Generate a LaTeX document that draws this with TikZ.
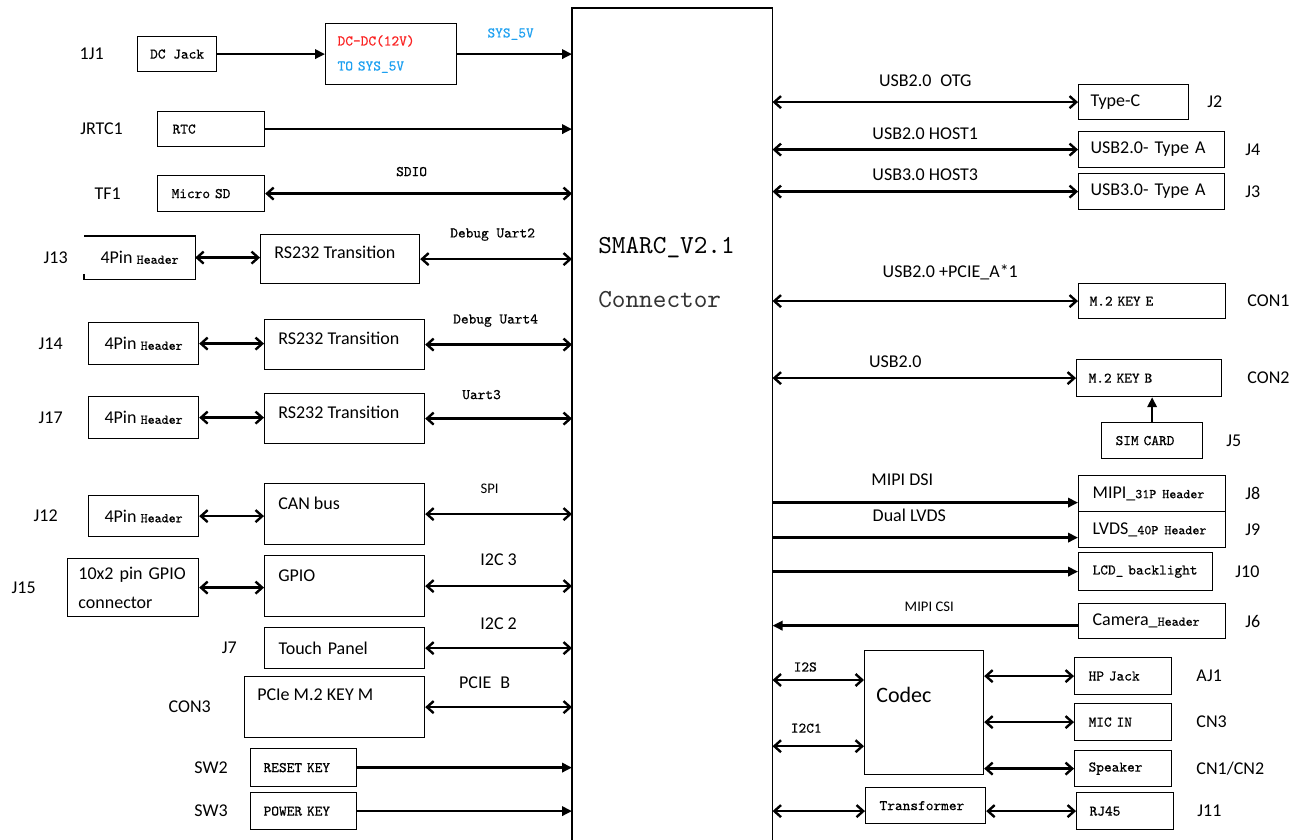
\documentclass[tikz,border=0pt]{standalone}
\usepackage{fontspec}
\setmainfont{Carlito}
\setmonofont{lmmono10-regular.otf}[FakeBold=0.6]
\newfontfamily\bigmono{lmmono10-regular.otf}
\usepackage{tikz}
\usetikzlibrary{arrows.meta,positioning}
\definecolor{pwrred}{RGB}{250,35,35}
\definecolor{pwrblue}{RGB}{30,160,240}
\newcommand{\hdrtt}[1]{{\fontsize{10}{12}\selectfont\ttfamily #1}}
\tikzset{
    blk/.style={
        rectangle,
        draw=black,
        line width=0.9pt,
        inner sep=0pt,
        anchor=north west,
        align=left,
        font={\fontsize{13.5}{16}\selectfont}
    },
    cnbox/.style={
        blk,
        font={\fontsize{11}{13}\selectfont\ttfamily}
    },
    blktext/.style={
        inner sep=0pt,
        anchor=west,
        font={\fontsize{13.5}{16}\selectfont}
    },
    tag/.style={
        inner sep=0pt,
        font={\fontsize{13.5}{16}\selectfont}
    },
    bus/.style={
        inner sep=0pt,
        font={\fontsize{13.5}{16}\selectfont}
    },
    smallbus/.style={
        inner sep=0pt,
        font={\fontsize{11}{13}\selectfont}
    },
    cnbus/.style={
        inner sep=0pt,
        font={\fontsize{11}{13}\selectfont\ttfamily}
    },
    twoway/.style={
        {Straight Barb[length=5pt,width=9pt]}-{Straight Barb[length=5pt,width=9pt]},
        line width=1.8pt
    },
    oneway/.style={
        -{Triangle[length=7.5pt,width=7pt]},
        line width=1.8pt
    }
}

\begin{document}
\begin{tikzpicture}[x=0.75pt, y=-0.75pt]
\useasboundingbox (0,0) rectangle (1302,839);

% SMARC connector
\node[minimum width=150pt, minimum height=623.25pt, inner sep=0pt, anchor=north west] (smarc) at (572,8) {};
\draw[line width=0.8pt] (smarc.south west) -- (smarc.north west) -- (smarc.north east) -- (smarc.south east);
\node[anchor=west, inner sep=0pt, font={\fontsize{19.5}{23}\selectfont\bigmono}] (smarc-name) at (598,248) {SMARC\_V2.1};
\node[anchor=west, inner sep=0pt, font={\fontsize{19.5}{23}\selectfont\bigmono}, text=black!80] (smarc-sub) at (598,300) {Connector};

% Power in
\node[cnbox, minimum width=59.25pt, minimum height=26.25pt, align=center] (dcjack) at (137,36) {DC Jack};
\node[tag, left=24.75pt of dcjack] (j1j1) {1J1};
\node[cnbox, minimum width=98.25pt, minimum height=45.75pt, text width=80.25pt] (dcdc) at (325,23) {\textcolor{pwrred}{DC-DC(12V)}\\[5.75pt]\textcolor{pwrblue}{TO SYS\_5V}};
\draw[oneway] (dcjack.east) -- (dcdc.west);
\draw[oneway] (dcdc.east) -- (dcdc.east -| smarc.west) node[cnbus, midway, yshift=15pt, xshift=-3pt, text=pwrblue] (sys5v) {SYS\_5V};

% RTC and TF card
\node[cnbox, minimum width=80.25pt, minimum height=26.25pt, text width=57.75pt] (rtc) at (157,111) {RTC};
\node[tag, left=25.5pt of rtc] (jrtc1) {JRTC1};
\draw[oneway] (rtc.east) -- (rtc.east -| smarc.west);
\node[cnbox, minimum width=80.25pt, minimum height=27pt, text width=59.25pt] (microsd) at (157,175) {Micro SD};
\node[tag, left=27pt of microsd] (tf1) {TF1};
\draw[twoway] (microsd.east) -- (microsd.east -| smarc.west) node[cnbus, midway, yshift=16.5pt, xshift=-5.25pt] (sdio) {SDIO};

% Uarts
\node[blk, draw=none, minimum width=82.5pt, minimum height=31.5pt, align=center] (hdr13) at (84,236) {4Pin \hdrtt{Header}};
\draw[line width=0.9pt] ([yshift=4pt]hdr13.south west) -- (hdr13.south west) -- (hdr13.south east) -- (hdr13.north east) -- (hdr13.north west);
\node[tag, left=12pt of hdr13] (j13) {J13};
\node[blk, minimum width=119.25pt, minimum height=36.75pt] (rs13) at (260,234) {};
\node[blktext] (rs13-t) at (274,252) {RS232 Transition};
\draw[twoway] (hdr13.east) -- (hdr13.east -| rs13.west);
\draw[twoway] (rs13.east) -- (rs13.east -| smarc.west) node[cnbus, midway, yshift=18.4pt, xshift=-2.6pt] (uart2) {Debug Uart2};

\node[blk, minimum width=82.5pt, minimum height=31.5pt, align=center] (hdr14) at (88,322) {4Pin \hdrtt{Header}};
\node[tag, left=18.75pt of hdr14] (j14) {J14};
\node[blk, minimum width=120pt, minimum height=37.5pt] (rs14) at (264,319) {};
\node[blktext] (rs14-t) at (278,338) {RS232 Transition};
\draw[twoway] (hdr14.east) -- (hdr14.east -| rs14.west);
\draw[twoway] (rs14.east) -- (rs14.east -| smarc.west) node[cnbus, midway, yshift=18pt, xshift=-2.25pt] (uart4) {Debug Uart4};

\node[blk, minimum width=82.5pt, minimum height=31.5pt, align=center] (hdr17) at (88,396) {4Pin \hdrtt{Header}};
\node[tag, left=18.75pt of hdr17] (j17) {J17};
\node[blk, minimum width=120pt, minimum height=37.5pt] (rs17) at (264,393) {};
\node[blktext] (rs17-t) at (278,412) {RS232 Transition};
\draw[twoway] (hdr17.east) -- (hdr17.east -| rs17.west);
\draw[twoway] (rs17.east) -- (rs17.east -| smarc.west) node[cnbus, midway, yshift=18pt, xshift=-12.75pt] (uart3) {Uart3};

% CAN, GPIO, touch, PCIe
\node[blk, minimum width=82.5pt, minimum height=30.75pt, align=center] (hdr12) at (88,495) {4Pin \hdrtt{Header}};
\node[tag, left=22.5pt of hdr12] (j12) {J12};
\node[blk, minimum width=120pt, minimum height=45.75pt] (can) at (264,483) {};
\node[blktext] (can-t) at (278,503) {CAN bus};
\draw[twoway] (hdr12.east) -- (hdr12.east -| can.west);
\draw[twoway] (can.east) -- (can.east -| smarc.west) node[smallbus, midway, yshift=19pt, xshift=-6.75pt] (spi) {SPI};

\node[blk, minimum width=98.25pt, minimum height=43.5pt, text width=82pt] (gpiohdr) at (67,558) {10x2 pin GPIO\\[6pt]connector};
\node[tag, left=23.25pt of gpiohdr] (j15) {J15};
\node[blk, minimum width=120pt, minimum height=45.75pt] (gpio) at (264,555) {};
\node[blktext] (gpio-t) at (278,576) {GPIO};
\draw[twoway] (gpiohdr.east) -- (gpiohdr.east -| gpio.west);
\draw[twoway] (gpio.east) -- (gpio.east -| smarc.west) node[bus, midway, yshift=19.9pt] (i2c3) {I2C 3};

\node[blk, minimum width=120pt, minimum height=30.75pt, text width=99pt] (touch) at (264,627) {Touch Panel};
\node[tag, left=20.25pt of touch] (j7) {J7};
\draw[twoway] (touch.east) -- (touch.east -| smarc.west) node[bus, midway, yshift=18.4pt] (i2c2) {I2C 2};

\node[blk, minimum width=135pt, minimum height=45.75pt] (pcie) at (244,676) {};
\node[blktext] (pcie-t) at (257,695) {PCIe M.2 KEY M};
\node[tag, left=24.75pt of pcie] (con3) {CON3};
\draw[twoway] (pcie.east) -- (pcie.east -| smarc.west) node[bus, midway, yshift=18.4pt, xshift=-10.5pt] (pcieb) {PCIE\enspace B};

% Keys
\node[cnbox, minimum width=79.5pt, minimum height=28.5pt, text width=60pt] (reset) at (250,748) {RESET KEY};
\node[tag, left=16.5pt of reset] (sw2) {SW2};
\draw[oneway] (reset.east) -- (reset.east -| smarc.west);
\node[cnbox, minimum width=79.5pt, minimum height=27.75pt, text width=60pt] (power) at (250,792) {POWER KEY};
\node[tag, left=16.5pt of power] (sw3) {SW3};
\draw[oneway] (power.east) -- (power.east -| smarc.west);

% USB
\node[blk, minimum width=82.5pt, minimum height=26.25pt, text width=64.5pt] (typec) at (1078,84) {Type-C};
\node[tag, right=13.5pt of typec] (j2) {J2};
\draw[twoway] (typec.west -| smarc.east) -- (typec.west) node[bus, midway, yshift=16pt] (otg) {USB2.0\enspace OTG};
\node[blk, minimum width=109.5pt, minimum height=27pt, text width=91.5pt] (usb2a) at (1078,131) {USB2.0- Type A};
\node[tag, right=15pt of usb2a] (j4) {J4};
\draw[twoway] (usb2a.west -| smarc.east) -- (usb2a.west) node[bus, midway, yshift=12pt] (host1) {USB2.0 HOST1};
\node[blk, minimum width=109.5pt, minimum height=27pt, text width=91.5pt] (usb3a) at (1078,173) {USB3.0- Type A};
\node[tag, right=15pt of usb3a] (j3) {J3};
\draw[twoway] (usb3a.west -| smarc.east) -- (usb3a.west) node[bus, midway, yshift=12.75pt] (host3) {USB3.0 HOST3};

% M.2 slots
\node[cnbox, minimum width=110.25pt, minimum height=26.25pt, text width=93.75pt] (m2e) at (1078,283) {M.2 KEY E};
\node[tag, right=15.75pt of m2e] (con1) {CON1};
\draw[twoway] (m2e.west -| smarc.east) -- (m2e.west) node[bus, midway, yshift=21.4pt, xshift=18.75pt] (pciea) {USB2.0 +PCIE\_A*1};
\node[cnbox, minimum width=108.75pt, minimum height=27.75pt, text width=90.75pt] (m2b) at (1076,359) {M.2 KEY B};
\node[tag, right=18.75pt of m2b] (con2) {CON2};
\draw[twoway] (m2b.west -| smarc.east) -- (m2b.west) node[bus, midway, yshift=12.4pt, xshift=-21.75pt] (usb20) {USB2.0};
\node[cnbox, minimum width=75.75pt, minimum height=27pt, text width=54.75pt] (sim) at (1101,422) {SIM CARD};
\node[tag, right=17.25pt of sim] (j5) {J5};
\draw[oneway] (sim.north) -- (sim.north |- m2b.south);

% Display and camera
\node[blk, minimum width=110.25pt, minimum height=27pt, text width=89.25pt] (mipi) at (1078,475) {MIPI\_\hdrtt{31P Header}};
\node[tag, right=14.25pt of mipi] (j8) {J8};
\coordinate (dsi) at ([yshift=-6.75pt]mipi.west);
\draw[oneway] (dsi -| smarc.east) -- (dsi) node[bus, midway, yshift=17.25pt, xshift=-17.25pt] (dsi-l) {MIPI DSI};
\node[blk, minimum width=110.25pt, minimum height=27pt, text width=89.25pt] (lvds) at (1078,511) {LVDS\_\hdrtt{40P Header}};
\node[tag, right=14.25pt of lvds] (j9) {J9};
\coordinate (lvdsin) at ([yshift=-6pt]lvds.west);
\draw[oneway, line width=2.4pt] (lvdsin -| smarc.east) -- (lvdsin) node[bus, midway, yshift=16.5pt, xshift=-12pt] (lvds-l) {Dual LVDS};
\node[cnbox, minimum width=100.5pt, minimum height=28.5pt, text width=79.5pt] (lcd) at (1078,552) {LCD\_ backlight};
\node[tag, right=16.5pt of lcd] (j10) {J10};
\draw[oneway] (lcd.west -| smarc.east) -- (lcd.west);
\node[blk, minimum width=110.25pt, minimum height=26.25pt, text width=89.25pt] (camera) at (1078,603) {Camera\_\hdrtt{Header}};
\node[tag, right=14.25pt of camera] (j6) {J6};
\coordinate (csi) at ([yshift=-3.4pt]camera.west);
\draw[oneway] (csi) -- (csi -| smarc.east) node[smallbus, midway, yshift=14.25pt, xshift=3pt] (csi-l) {MIPI CSI};

% Audio
\node[blk, minimum width=89.25pt, minimum height=93pt] (codec) at (864,650) {};
\node[blktext, font={\fontsize{16.5}{19}\selectfont}] (codec-t) at (876,695) {Codec};
\coordinate (i2s) at ([yshift=-22.5pt]codec.north west);
\draw[twoway] (i2s -| smarc.east) -- (i2s) node[cnbus, midway, yshift=9.75pt, xshift=-9.75pt] (i2s-l) {I2S};
\coordinate (i2c1) at ([yshift=21.75pt]codec.south west);
\draw[twoway] (i2c1 -| smarc.east) -- (i2c1) node[cnbus, midway, yshift=13.5pt, xshift=-9pt] (i2c1-l) {I2C1};
\node[cnbox, minimum width=72.75pt, minimum height=27.75pt, text width=51.75pt] (hpjack) at (1074,657) {HP Jack};
\node[tag, right=18pt of hpjack] (aj1) {AJ1};
\node[cnbox, minimum width=72.75pt, minimum height=27.75pt, text width=51.75pt] (micin) at (1074,703) {MIC IN};
\node[tag, right=18pt of micin] (cn3) {CN3};
\node[cnbox, minimum width=72.75pt, minimum height=27pt, text width=51.75pt] (speaker) at (1074,750) {Speaker};
\node[tag, right=18pt of speaker] (cn12) {CN1/CN2};
\draw[twoway] (hpjack.west -| codec.east) -- (hpjack.west);
\draw[twoway] (micin.west -| codec.east) -- (micin.west);
\draw[twoway] (speaker.west -| codec.east) -- (speaker.west);

% Ethernet
\node[cnbox, minimum width=90pt, minimum height=27pt, text width=69pt] (transformer) at (865,787) {Transformer};
\node[cnbox, minimum width=72.75pt, minimum height=27.75pt, text width=53.25pt] (rj45) at (1076,792) {RJ45};
\node[tag, right=17.25pt of rj45] (j11) {J11};
\draw[twoway] (rj45.west -| smarc.east) -- (rj45.west -| transformer.west);
\draw[twoway] (rj45.west -| transformer.east) -- (rj45.west);
\end{tikzpicture}
\end{document}
